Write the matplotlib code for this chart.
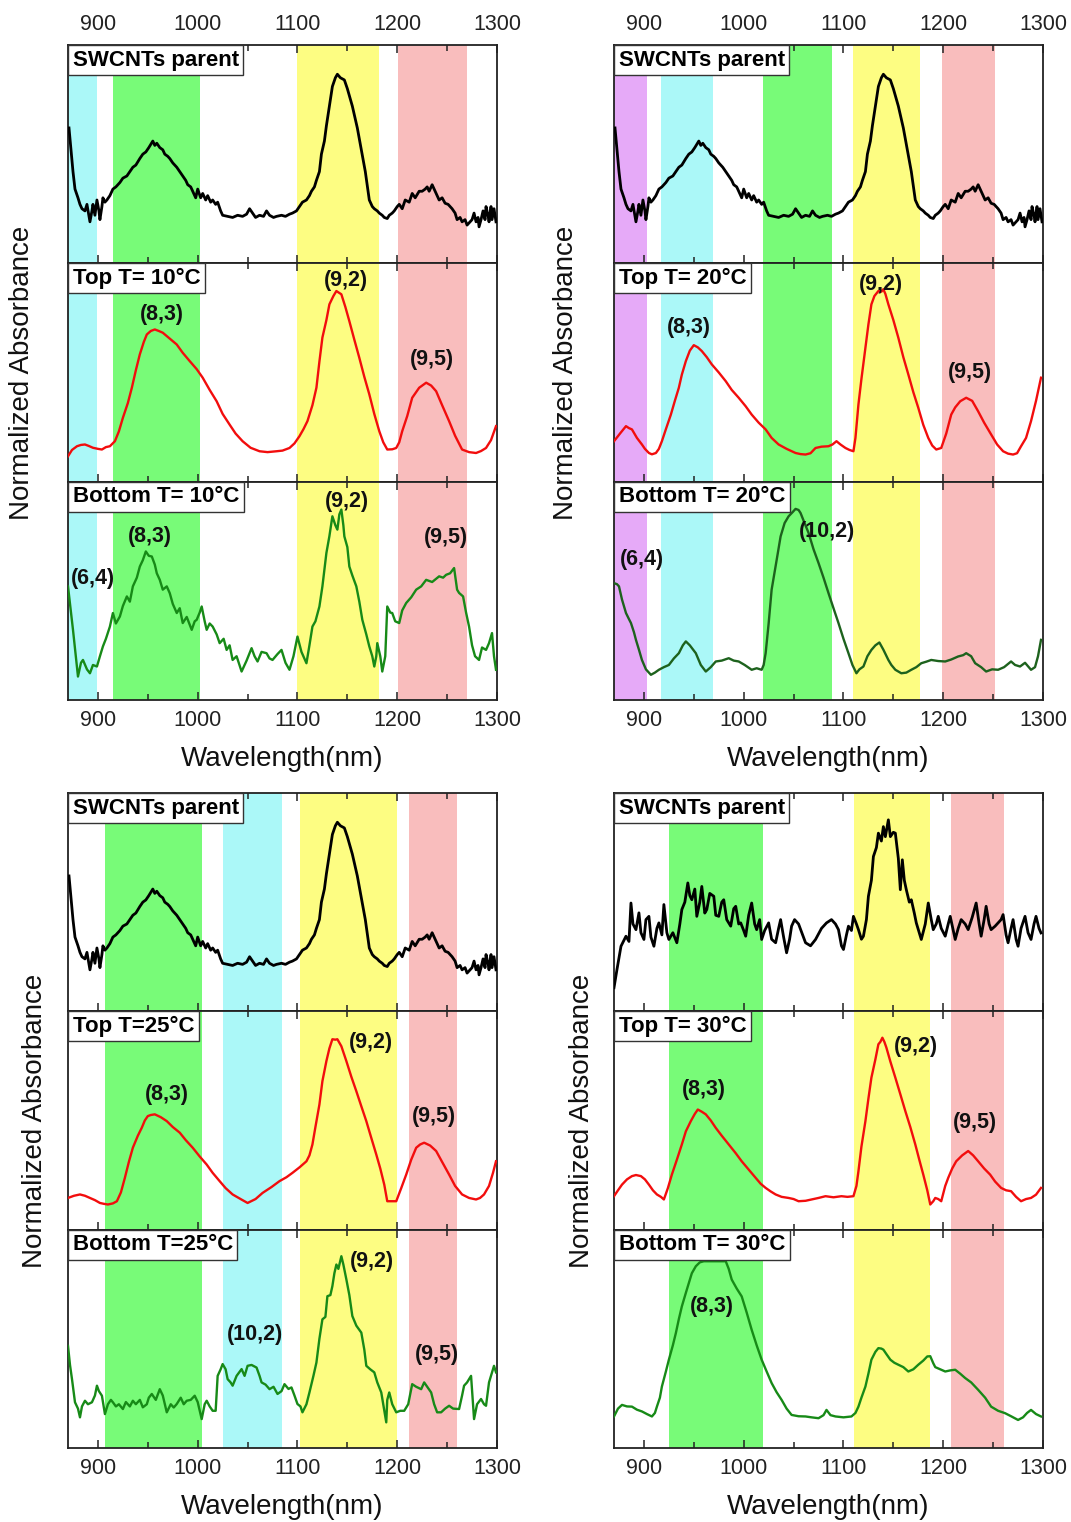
"""Absorption spectra of SWCNT fractions (parent / top / bottom) at four temperatures."""

import matplotlib

matplotlib.use("Agg")
import matplotlib.pyplot as plt
from matplotlib.ticker import MultipleLocator

plt.rcParams["font.family"] = ["Liberation Sans", "DejaVu Sans"]

# ---- colours of the chirality bands ----
CYAN = "#abf8f8"
GREEN = "#78fb78"
YELLOW = "#fdfd82"
PINK = "#f9bdbd"
VIOLET = "#e6aaf8"

# ---- parent SWCNTs (same spectrum in the 10 / 20 / 25 °C panels) ----
parent_nm = [871, 873, 875, 877, 880, 882, 884, 887, 889, 892, 894, 895, 897, 899, 901, 902, 904,
             905, 907, 909, 912, 915, 918, 922, 925, 929, 932, 935, 938, 942, 945, 948, 951, 955,
             957, 959, 962, 965, 967, 970, 972, 975, 979, 982, 985, 988, 990, 993, 995, 998, 1000,
             1003, 1005, 1008, 1010, 1013, 1015, 1018, 1020, 1023, 1025, 1030, 1035, 1040, 1045,
             1049, 1052, 1055, 1058, 1062, 1066, 1069, 1072, 1076, 1079, 1084, 1088, 1092, 1095,
             1099, 1102, 1105, 1109, 1112, 1114, 1117, 1119, 1122, 1124, 1127, 1129, 1132, 1135,
             1138, 1140, 1143, 1147, 1150, 1155, 1160, 1164, 1168, 1172, 1175, 1177, 1180, 1182,
             1185, 1187, 1190, 1192, 1195, 1197, 1200, 1202, 1205, 1208, 1212, 1215, 1218, 1222,
             1225, 1228, 1230, 1232, 1235, 1237, 1240, 1242, 1245, 1248, 1251, 1255, 1258, 1260,
             1263, 1265, 1268, 1270, 1273, 1275, 1277, 1279, 1281, 1282, 1284, 1286, 1288, 1289,
             1291, 1292, 1294, 1295, 1297, 1299]
parent_abs = [0.62, 0.52, 0.42, 0.34, 0.3, 0.27, 0.25, 0.24, 0.27, 0.19, 0.24, 0.27, 0.22, 0.29,
              0.24, 0.2, 0.26, 0.3, 0.28, 0.29, 0.31, 0.34, 0.35, 0.37, 0.39, 0.4, 0.42, 0.44,
              0.45, 0.48, 0.5, 0.51, 0.53, 0.56, 0.54, 0.55, 0.53, 0.52, 0.5, 0.49, 0.48, 0.46,
              0.44, 0.42, 0.4, 0.38, 0.36, 0.35, 0.33, 0.3, 0.34, 0.3, 0.32, 0.29, 0.31, 0.28,
              0.29, 0.27, 0.28, 0.24, 0.22, 0.215, 0.21, 0.22, 0.215, 0.225, 0.25, 0.23, 0.21,
              0.22, 0.215, 0.24, 0.22, 0.21, 0.215, 0.22, 0.215, 0.225, 0.23, 0.24, 0.26, 0.28,
              0.29, 0.31, 0.33, 0.35, 0.38, 0.42, 0.5, 0.56, 0.63, 0.72, 0.81, 0.85, 0.866, 0.85,
              0.84, 0.8, 0.72, 0.62, 0.52, 0.42, 0.29, 0.26, 0.25, 0.24, 0.23, 0.22, 0.21, 0.205,
              0.22, 0.23, 0.24, 0.26, 0.27, 0.25, 0.29, 0.28, 0.32, 0.3, 0.33, 0.33, 0.34, 0.35,
              0.33, 0.36, 0.34, 0.31, 0.29, 0.3, 0.275, 0.27, 0.25, 0.23, 0.2, 0.21, 0.19, 0.2,
              0.175, 0.19, 0.2, 0.23, 0.19, 0.21, 0.167, 0.2, 0.24, 0.2, 0.26, 0.22, 0.19, 0.26,
              0.2, 0.25, 0.19]

# ---- 10 °C ----
top10_nm = [870, 874, 879, 883, 887, 891, 895, 900, 904, 908, 912, 917, 921, 925, 930, 934, 938,
            942, 946, 949, 953, 957, 961, 965, 972, 979, 985, 992, 999, 1005, 1012, 1019, 1025,
            1032, 1038, 1045, 1053, 1062, 1070, 1079, 1085, 1092, 1097, 1102, 1106, 1110, 1115,
            1119, 1122, 1125, 1129, 1132, 1136, 1139, 1144, 1148, 1152, 1157, 1162, 1167, 1172,
            1177, 1182, 1186, 1190, 1195, 1199, 1202, 1205, 1210, 1215, 1222, 1229, 1234, 1239,
            1245, 1252, 1258, 1265, 1272, 1279, 1284, 1289, 1294, 1299]
top10_abs = [0.116, 0.145, 0.162, 0.168, 0.17, 0.163, 0.155, 0.15, 0.147, 0.158, 0.162, 0.185,
             0.23, 0.292, 0.36, 0.43, 0.51, 0.583, 0.64, 0.674, 0.69, 0.697, 0.69, 0.682, 0.655,
             0.628, 0.59, 0.552, 0.515, 0.476, 0.42, 0.368, 0.31, 0.261, 0.22, 0.185, 0.155,
             0.139, 0.135, 0.139, 0.142, 0.154, 0.175, 0.208, 0.24, 0.277, 0.35, 0.43, 0.55, 0.66,
             0.74, 0.812, 0.85, 0.873, 0.858, 0.8, 0.735, 0.65, 0.567, 0.48, 0.4, 0.31, 0.231,
             0.18, 0.147, 0.148, 0.154, 0.18, 0.231, 0.3, 0.384, 0.43, 0.453, 0.44, 0.414, 0.35,
             0.277, 0.21, 0.147, 0.135, 0.131, 0.14, 0.154, 0.19, 0.254]
bot10_nm = [870, 875, 880, 883, 885, 889, 892, 895, 899, 902, 905, 908, 912, 915, 918, 922, 925,
            929, 932, 935, 939, 942, 945, 948, 951, 954, 957, 959, 962, 965, 969, 972, 975, 979,
            982, 985, 989, 994, 997, 999, 1002, 1004, 1007, 1009, 1012, 1015, 1019, 1022, 1026,
            1029, 1032, 1035, 1039, 1044, 1049, 1054, 1057, 1060, 1064, 1069, 1072, 1075, 1080,
            1084, 1088, 1092, 1096, 1100, 1104, 1109, 1112, 1115, 1118, 1122, 1125, 1129, 1132,
            1135, 1138, 1140, 1142, 1144, 1146, 1147, 1150, 1152, 1155, 1159, 1162, 1165, 1169,
            1172, 1175, 1177, 1179, 1180, 1183, 1185, 1188, 1190, 1193, 1195, 1198, 1202, 1205,
            1209, 1214, 1219, 1224, 1229, 1235, 1242, 1246, 1249, 1253, 1257, 1260, 1262, 1266,
            1269, 1272, 1275, 1278, 1282, 1285, 1289, 1292, 1295, 1297, 1299]
bot10_abs = [0.52, 0.321, 0.107, 0.17, 0.183, 0.14, 0.122, 0.16, 0.153, 0.2, 0.245, 0.28, 0.336,
             0.398, 0.35, 0.382, 0.43, 0.474, 0.45, 0.52, 0.56, 0.611, 0.64, 0.68, 0.66, 0.657,
             0.62, 0.58, 0.55, 0.505, 0.52, 0.489, 0.44, 0.398, 0.42, 0.352, 0.38, 0.321, 0.36,
             0.367, 0.4, 0.428, 0.36, 0.321, 0.35, 0.336, 0.3, 0.26, 0.28, 0.229, 0.25, 0.183,
             0.2, 0.13, 0.18, 0.237, 0.2, 0.176, 0.22, 0.214, 0.19, 0.183, 0.21, 0.229, 0.17,
             0.138, 0.2, 0.29, 0.22, 0.168, 0.25, 0.336, 0.36, 0.428, 0.52, 0.673, 0.75, 0.841,
             0.8, 0.78, 0.85, 0.872, 0.8, 0.749, 0.7, 0.611, 0.57, 0.52, 0.45, 0.367, 0.3, 0.245,
             0.2, 0.153, 0.2, 0.26, 0.2, 0.13, 0.2, 0.428, 0.4, 0.398, 0.36, 0.352, 0.41, 0.444,
             0.47, 0.505, 0.52, 0.55, 0.54, 0.566, 0.56, 0.573, 0.58, 0.604, 0.505, 0.49, 0.474,
             0.4, 0.336, 0.25, 0.2, 0.183, 0.24, 0.229, 0.26, 0.306, 0.2, 0.138]

# ---- 20 °C ----
top20_nm = [870, 876, 882, 885, 888, 893, 898, 901, 905, 908, 912, 915, 918, 922, 927, 931, 935,
            938, 942, 946, 950, 954, 958, 963, 968, 975, 982, 988, 995, 1002, 1008, 1015, 1022,
            1028, 1035, 1043, 1052, 1057, 1062, 1067, 1072, 1078, 1085, 1089, 1093, 1097, 1102,
            1106, 1110, 1112, 1115, 1118, 1122, 1125, 1128, 1131, 1135, 1138, 1140, 1142, 1145,
            1150, 1155, 1160, 1165, 1170, 1175, 1180, 1185, 1189, 1193, 1198, 1203, 1208, 1212,
            1217, 1223, 1229, 1235, 1241, 1248, 1254, 1260, 1265, 1270, 1274, 1278, 1283, 1288,
            1293, 1298]
top20_abs = [0.185, 0.22, 0.254, 0.245, 0.239, 0.2, 0.17, 0.15, 0.131, 0.125, 0.131, 0.15, 0.185,
             0.24, 0.307, 0.37, 0.43, 0.49, 0.552, 0.6, 0.625, 0.615, 0.598, 0.57, 0.537, 0.5,
             0.46, 0.42, 0.384, 0.345, 0.307, 0.27, 0.239, 0.2, 0.17, 0.15, 0.131, 0.126, 0.124,
             0.13, 0.154, 0.16, 0.162, 0.17, 0.185, 0.17, 0.154, 0.145, 0.139, 0.2, 0.353, 0.47,
             0.613, 0.72, 0.812, 0.85, 0.873, 0.87, 0.881, 0.86, 0.812, 0.74, 0.659, 0.57, 0.491,
             0.41, 0.338, 0.26, 0.2, 0.165, 0.147, 0.154, 0.22, 0.307, 0.34, 0.368, 0.384, 0.37,
             0.322, 0.27, 0.216, 0.17, 0.139, 0.128, 0.124, 0.13, 0.162, 0.2, 0.277, 0.37, 0.476]
bot20_nm = [870, 873, 875, 878, 882, 885, 887, 890, 892, 895, 898, 902, 907, 911, 915, 920, 925,
            930, 935, 939, 942, 946, 952, 957, 962, 967, 972, 978, 985, 990, 995, 1001, 1008, 1013,
            1018, 1020, 1022, 1025, 1028, 1033, 1037, 1041, 1045, 1049, 1052, 1055, 1057, 1061,
            1065, 1070, 1075, 1080, 1085, 1090, 1095, 1100, 1105, 1109, 1113, 1116, 1120, 1124,
            1128, 1132, 1136, 1140, 1145, 1148, 1152, 1158, 1163, 1168, 1173, 1178, 1183, 1188,
            1195, 1202, 1208, 1215, 1220, 1223, 1228, 1232, 1238, 1243, 1249, 1255, 1261, 1268,
            1272, 1277, 1282, 1288, 1292, 1295, 1298]
bot20_abs = [0.535, 0.53, 0.52, 0.46, 0.398, 0.37, 0.352, 0.31, 0.275, 0.23, 0.183, 0.14, 0.115,
             0.125, 0.138, 0.15, 0.16, 0.19, 0.214, 0.25, 0.268, 0.25, 0.214, 0.16, 0.13, 0.15,
             0.176, 0.18, 0.191, 0.18, 0.176, 0.16, 0.138, 0.145, 0.138, 0.16, 0.214, 0.35,
             0.505, 0.64, 0.749, 0.81, 0.841, 0.86, 0.875, 0.87, 0.856, 0.81, 0.765, 0.69, 0.627,
             0.56, 0.489, 0.42, 0.352, 0.28, 0.214, 0.16, 0.122, 0.14, 0.153, 0.2, 0.229, 0.25,
             0.263, 0.23, 0.183, 0.16, 0.138, 0.122, 0.125, 0.138, 0.15, 0.168, 0.175, 0.183,
             0.178, 0.176, 0.185, 0.199, 0.205, 0.214, 0.2, 0.168, 0.15, 0.13, 0.14, 0.138, 0.15,
             0.176, 0.16, 0.153, 0.17, 0.138, 0.15, 0.2, 0.275]

# ---- 25 °C ----
top25_nm = [870, 876, 882, 887, 892, 897, 902, 906, 910, 915, 919, 923, 927, 931, 935, 940, 944,
            947, 950, 953, 957, 963, 969, 975, 982, 988, 995, 1002, 1009, 1015, 1022, 1028, 1035,
            1043, 1050, 1058, 1065, 1074, 1082, 1089, 1095, 1102, 1109, 1112, 1115, 1118, 1122,
            1125, 1129, 1132, 1135, 1138, 1140, 1144, 1149, 1154, 1159, 1164, 1169, 1174, 1179,
            1183, 1187, 1190, 1195, 1199, 1204, 1209, 1214, 1219, 1223, 1227, 1233, 1239, 1245,
            1252, 1258, 1265, 1272, 1279, 1283, 1287, 1292, 1296, 1299]
top25_abs = [0.145, 0.155, 0.161, 0.155, 0.145, 0.135, 0.122, 0.118, 0.115, 0.12, 0.13, 0.17,
             0.237, 0.31, 0.375, 0.43, 0.467, 0.5, 0.52, 0.525, 0.528, 0.515, 0.497, 0.47, 0.444,
             0.41, 0.375, 0.335, 0.298, 0.26, 0.222, 0.19, 0.161, 0.14, 0.122, 0.14, 0.168, 0.195,
             0.222, 0.24, 0.26, 0.285, 0.313, 0.34, 0.39, 0.47, 0.573, 0.68, 0.772, 0.83, 0.872,
             0.87, 0.872, 0.84, 0.772, 0.7, 0.634, 0.565, 0.497, 0.42, 0.344, 0.28, 0.206, 0.13,
             0.13, 0.13, 0.19, 0.252, 0.32, 0.375, 0.39, 0.398, 0.385, 0.36, 0.31, 0.252, 0.2,
             0.161, 0.145, 0.138, 0.145, 0.161, 0.2, 0.26, 0.313]
bot25_nm = [870, 872, 874, 877, 880, 882, 884, 887, 890, 894, 897, 899, 901, 904, 907, 910, 913,
            915, 918, 921, 925, 928, 932, 935, 938, 942, 945, 949, 951, 954, 958, 962, 965, 969,
            973, 976, 979, 983, 986, 989, 993, 997, 1000, 1004, 1007, 1009, 1012, 1015, 1018,
            1020, 1023, 1025, 1028, 1030, 1033, 1035, 1039, 1044, 1047, 1050, 1054, 1059, 1062,
            1064, 1068, 1072, 1076, 1080, 1084, 1087, 1091, 1094, 1097, 1100, 1103, 1105, 1109,
            1112, 1116, 1119, 1122, 1125, 1128, 1130, 1133, 1135, 1137, 1139, 1141, 1144, 1146,
            1149, 1152, 1155, 1159, 1164, 1167, 1169, 1173, 1177, 1180, 1184, 1186, 1189, 1190,
            1192, 1195, 1199, 1203, 1207, 1211, 1215, 1219, 1224, 1227, 1230, 1234, 1237, 1240,
            1244, 1248, 1252, 1256, 1262, 1265, 1267, 1270, 1274, 1276, 1277, 1280, 1284, 1287,
            1289, 1292, 1294, 1297, 1299]
bot25_abs = [0.467, 0.38, 0.315, 0.209, 0.18, 0.14, 0.19, 0.216, 0.2, 0.209, 0.24, 0.285, 0.26,
             0.239, 0.155, 0.2, 0.22, 0.209, 0.19, 0.2, 0.178, 0.21, 0.19, 0.216, 0.2, 0.22,
             0.186, 0.2, 0.23, 0.247, 0.22, 0.269, 0.24, 0.163, 0.2, 0.185, 0.201, 0.23, 0.2,
             0.216, 0.22, 0.239, 0.21, 0.132, 0.2, 0.216, 0.19, 0.17, 0.17, 0.33, 0.36, 0.384,
             0.36, 0.315, 0.3, 0.285, 0.33, 0.361, 0.33, 0.376, 0.38, 0.368, 0.33, 0.3, 0.29,
             0.269, 0.28, 0.247, 0.26, 0.292, 0.27, 0.277, 0.24, 0.201, 0.19, 0.163, 0.2, 0.254,
             0.33, 0.391, 0.5, 0.589, 0.6, 0.695, 0.7, 0.741, 0.8, 0.84, 0.82, 0.878, 0.84, 0.772,
             0.7, 0.604, 0.56, 0.528, 0.45, 0.376, 0.36, 0.346, 0.3, 0.254, 0.2, 0.117, 0.22,
             0.254, 0.2, 0.163, 0.17, 0.17, 0.2, 0.292, 0.28, 0.269, 0.3, 0.28, 0.254, 0.2,
             0.163, 0.163, 0.18, 0.193, 0.18, 0.178, 0.24, 0.285, 0.3, 0.33, 0.2, 0.132, 0.2,
             0.224, 0.2, 0.193, 0.3, 0.33, 0.376, 0.346]

# ---- 30 °C (its own, noisier parent) ----
parent30_nm = [870, 873, 877, 882, 885, 887, 889, 892, 895, 897, 900, 902, 905, 907, 910, 913, 915,
               918, 920, 923, 925, 929, 933, 936, 938, 941, 944, 946, 948, 951, 953, 956, 958, 961,
               963, 966, 970, 972, 975, 978, 980, 983, 987, 990, 992, 995, 997, 1000, 1002, 1005,
               1008, 1011, 1013, 1016, 1018, 1021, 1025, 1028, 1032, 1035, 1037, 1040, 1043, 1046,
               1048, 1051, 1055, 1062, 1067, 1072, 1078, 1083, 1088, 1092, 1095, 1098, 1100, 1103,
               1105, 1108, 1110, 1113, 1115, 1118, 1120, 1123, 1125, 1128, 1130, 1133, 1135, 1138,
               1140, 1142, 1145, 1147, 1150, 1152, 1155, 1157, 1159, 1161, 1163, 1166, 1168, 1171,
               1173, 1176, 1178, 1182, 1185, 1188, 1190, 1193, 1195, 1198, 1202, 1205, 1207, 1210,
               1212, 1215, 1218, 1222, 1225, 1229, 1233, 1236, 1238, 1241, 1243, 1246, 1248, 1252,
               1255, 1258, 1260, 1263, 1265, 1268, 1270, 1273, 1275, 1278, 1282, 1285, 1288, 1291,
               1293, 1296, 1298]
parent30_abs = [0.108, 0.192, 0.298, 0.344, 0.32, 0.496, 0.4, 0.374, 0.451, 0.36, 0.329, 0.42,
                0.435, 0.34, 0.298, 0.38, 0.405, 0.35, 0.489, 0.36, 0.329, 0.36, 0.314, 0.4,
                0.466, 0.5, 0.588, 0.53, 0.511, 0.56, 0.435, 0.5, 0.572, 0.45, 0.466, 0.54, 0.527,
                0.44, 0.435, 0.5, 0.511, 0.42, 0.39, 0.47, 0.481, 0.4, 0.405, 0.37, 0.344, 0.44,
                0.496, 0.4, 0.374, 0.42, 0.329, 0.37, 0.405, 0.33, 0.314, 0.38, 0.42, 0.34, 0.268,
                0.33, 0.39, 0.42, 0.4, 0.314, 0.3, 0.329, 0.38, 0.405, 0.42, 0.4, 0.374, 0.3, 0.283,
                0.35, 0.39, 0.37, 0.435, 0.4, 0.374, 0.33, 0.344, 0.42, 0.527, 0.6, 0.709, 0.75,
                0.816, 0.78, 0.846, 0.8, 0.877, 0.8, 0.82, 0.816, 0.7, 0.557, 0.694, 0.6, 0.557,
                0.5, 0.511, 0.45, 0.405, 0.36, 0.329, 0.4, 0.496, 0.42, 0.374, 0.4, 0.435, 0.38,
                0.344, 0.4, 0.435, 0.37, 0.329, 0.38, 0.42, 0.4, 0.374, 0.43, 0.496, 0.4, 0.344,
                0.42, 0.481, 0.4, 0.374, 0.39, 0.405, 0.42, 0.443, 0.35, 0.314, 0.38, 0.42, 0.33,
                0.298, 0.38, 0.435, 0.36, 0.329, 0.4, 0.435, 0.38, 0.359]
top30_nm = [870, 874, 878, 883, 888, 892, 897, 901, 905, 909, 913, 917, 920, 924, 928, 933, 938,
            942, 947, 951, 954, 958, 962, 967, 972, 978, 985, 992, 998, 1005, 1012, 1017, 1022,
            1027, 1032, 1038, 1045, 1050, 1055, 1062, 1068, 1075, 1082, 1090, 1098, 1104, 1110,
            1113, 1115, 1118, 1122, 1125, 1128, 1132, 1135, 1137, 1139, 1141, 1143, 1147, 1152,
            1157, 1162, 1167, 1172, 1176, 1180, 1184, 1187, 1190, 1192, 1195, 1198, 1202, 1205,
            1209, 1213, 1219, 1225, 1230, 1235, 1241, 1247, 1252, 1258, 1263, 1268, 1273, 1278,
            1283, 1288, 1293, 1298]
top30_abs = [0.153, 0.18, 0.206, 0.23, 0.245, 0.25, 0.245, 0.23, 0.206, 0.18, 0.161, 0.15, 0.138,
             0.19, 0.252, 0.32, 0.39, 0.45, 0.497, 0.53, 0.55, 0.54, 0.528, 0.5, 0.466, 0.43, 0.39,
             0.35, 0.313, 0.275, 0.237, 0.21, 0.191, 0.175, 0.161, 0.15, 0.145, 0.14, 0.13, 0.132,
             0.138, 0.145, 0.153, 0.148, 0.153, 0.15, 0.153, 0.2, 0.267, 0.38, 0.497, 0.6, 0.696,
             0.78, 0.849, 0.86, 0.879, 0.86, 0.834, 0.77, 0.696, 0.62, 0.543, 0.47, 0.39, 0.32,
             0.252, 0.18, 0.115, 0.13, 0.145, 0.14, 0.13, 0.2, 0.237, 0.28, 0.313, 0.34, 0.36,
             0.34, 0.313, 0.28, 0.252, 0.22, 0.191, 0.18, 0.176, 0.15, 0.13, 0.14, 0.145, 0.16,
             0.191]
bot30_nm = [870, 874, 878, 883, 888, 893, 898, 903, 908, 911, 913, 916, 918, 922, 925, 929, 932,
            935, 938, 942, 945, 948, 952, 956, 960, 966, 972, 977, 982, 985, 988, 993, 998, 1003,
            1008, 1013, 1018, 1023, 1028, 1033, 1038, 1043, 1048, 1055, 1062, 1068, 1075, 1080,
            1083, 1087, 1092, 1100, 1108, 1112, 1115, 1118, 1122, 1125, 1128, 1132, 1135, 1138,
            1140, 1143, 1147, 1151, 1155, 1160, 1165, 1170, 1175, 1180, 1184, 1187, 1190, 1192,
            1197, 1202, 1207, 1212, 1217, 1222, 1228, 1235, 1242, 1248, 1255, 1262, 1268, 1275,
            1280, 1284, 1288, 1293, 1298]
bot30_abs = [0.144, 0.18, 0.197, 0.19, 0.189, 0.175, 0.167, 0.155, 0.144, 0.16, 0.189, 0.23, 0.281,
             0.35, 0.404, 0.47, 0.526, 0.59, 0.648, 0.71, 0.755, 0.8, 0.832, 0.85, 0.855, 0.855,
             0.855, 0.855, 0.855, 0.82, 0.771, 0.73, 0.694, 0.62, 0.541, 0.47, 0.404, 0.35, 0.297,
             0.255, 0.22, 0.18, 0.151, 0.145, 0.144, 0.14, 0.136, 0.15, 0.174, 0.15, 0.144, 0.14,
             0.144, 0.16, 0.189, 0.23, 0.281, 0.34, 0.404, 0.44, 0.457, 0.455, 0.45, 0.43, 0.404,
             0.39, 0.381, 0.37, 0.35, 0.36, 0.381, 0.4, 0.419, 0.42, 0.388, 0.37, 0.36, 0.35,
             0.355, 0.358, 0.34, 0.32, 0.3, 0.266, 0.23, 0.189, 0.17, 0.159, 0.145, 0.128, 0.14,
             0.16, 0.174, 0.155, 0.144]

# ---- band limits (nm) per panel ----
bands_10 = [(870, 899, CYAN), (915, 1002, GREEN), (1100, 1182, YELLOW), (1201, 1270, PINK)]
bands_20 = [(870, 903, VIOLET), (917, 969, CYAN), (1019, 1089, GREEN), (1110, 1177, YELLOW),
            (1199, 1252, PINK)]
bands_25 = [(907, 1004, GREEN), (1025, 1085, CYAN), (1103, 1200, YELLOW), (1212, 1260, PINK)]
bands_30 = [(925, 1019, GREEN), (1111, 1187, YELLOW), (1208, 1261, PINK)]

RED = "#f20d0d"
DKGREEN = "#178a17"
DKGREEN2 = "#1d621d"

panels = [
    {   # top left
        "pos": (68, 45), "ylab_x": 22, "top_labels": True, "bands": bands_10,
        "rows": [
            ("SWCNTs parent", parent_nm, parent_abs, "black", []),
            ("Top T= 10°C", top10_nm, top10_abs, RED,
             [("(8,3)", 964, 0.766), ("(9,2)", 1149, 0.919), ("(9,5)", 1235, 0.56)]),
            ("Bottom T= 10°C", bot10_nm, bot10_abs, DKGREEN,
             [("(6,4)", 895, 0.558), ("(8,3)", 952, 0.749), ("(9,2)", 1150, 0.91),
              ("(9,5)", 1249, 0.742)]),
        ],
    },
    {   # top right
        "pos": (614, 45), "ylab_x": 566, "top_labels": True, "bands": bands_20,
        "rows": [
            ("SWCNTs parent", parent_nm, parent_abs, "black", []),
            ("Top T= 20°C", top20_nm, top20_abs, RED,
             [("(8,3)", 945, 0.705), ("(9,2)", 1138, 0.904), ("(9,5)", 1227, 0.498)]),
            ("Bottom T= 20°C", bot20_nm, bot20_abs, DKGREEN2,
             [("(6,4)", 898, 0.642), ("(10,2)", 1083, 0.772)]),
        ],
    },
    {   # bottom left
        "pos": (68, 793), "ylab_x": 35, "top_labels": False, "bands": bands_25,
        "rows": [
            ("SWCNTs parent", parent_nm, parent_abs, "black", []),
            ("Top T=25°C", top25_nm, top25_abs, RED,
             [("(8,3)", 969, 0.619), ("(9,2)", 1174, 0.856), ("(9,5)", 1237, 0.52)]),
            ("Bottom T=25°C", bot25_nm, bot25_abs, DKGREEN,
             [("(10,2)", 1057, 0.521), ("(9,2)", 1175, 0.855), ("(9,5)", 1240, 0.429)]),
        ],
    },
    {   # bottom right
        "pos": (614, 793), "ylab_x": 582, "top_labels": False, "bands": bands_30,
        "rows": [
            ("SWCNTs parent", parent30_nm, parent30_abs, "black", []),
            ("Top T= 30°C", top30_nm, top30_abs, RED,
             [("(8,3)", 960, 0.642), ("(9,2)", 1173, 0.841), ("(9,5)", 1232, 0.489)]),
            ("Bottom T= 30°C", bot30_nm, bot30_abs, DKGREEN, [("(8,3)", 968, 0.648)]),
        ],
    },
]

W, H = 1071, 1522
AX_W, ROW_H = 429, 218.3

fig = plt.figure(figsize=(W / 100, H / 100), dpi=100)

for panel in panels:
    x0, y0 = panel["pos"]
    for i, (label, nm, absorb, color, peaks) in enumerate(panel["rows"]):
        top_px = y0 + i * ROW_H
        ax = fig.add_axes([x0 / W, 1 - (top_px + ROW_H) / H, AX_W / W, ROW_H / H])
        for lo, hi, c in panel["bands"]:
            ax.axvspan(lo, hi, color=c, lw=0, zorder=0)
        lw = 2.0 if color == "black" else 1.7
        ax.plot(nm, absorb, color=color, lw=lw, zorder=3)
        ax.set_xlim(870, 1300)
        ax.set_ylim(0, 1)
        ax.set_yticks([])
        ax.xaxis.set_major_locator(MultipleLocator(100))
        ax.xaxis.set_minor_locator(MultipleLocator(50))
        ax.tick_params(axis="x", which="both", direction="in", top=True, bottom=True,
                       labelbottom=(i == 2), labeltop=(i == 0 and panel["top_labels"]),
                       labelsize=15.5, width=1.1, colors="#222222", labelcolor="#222222")
        ax.tick_params(axis="x", which="major", length=6, pad=7)
        ax.tick_params(axis="x", which="minor", length=4)
        for sp in ax.spines.values():
            sp.set_linewidth(1.3)
            sp.set_color("#222222")
        ax.text(0.011, 0.979, label, transform=ax.transAxes, ha="left", va="top",
                fontsize=16, fontweight="bold", zorder=5,
                bbox=dict(boxstyle="square,pad=0.2", facecolor="white",
                          edgecolor="#333333", linewidth=1.0))
        for txt, px, py in peaks:
            ax.text(px, py, txt, ha="center", va="center", fontsize=15.5,
                    fontweight="bold", color="#111111", zorder=4)

    cx = (x0 + AX_W / 2) / W
    fig.text(cx, 1 - (y0 + 3 * ROW_H + 59) / H, "Wavelength(nm)", ha="center",
             va="center", fontsize=20, color="#111111")
    fig.text(panel["ylab_x"] / W, 1 - (y0 + 1.5 * ROW_H) / H, "Normalized Absorbance",
             ha="center", va="center", rotation=90, fontsize=20, color="#111111")

fig.savefig("out.png", dpi=100)
